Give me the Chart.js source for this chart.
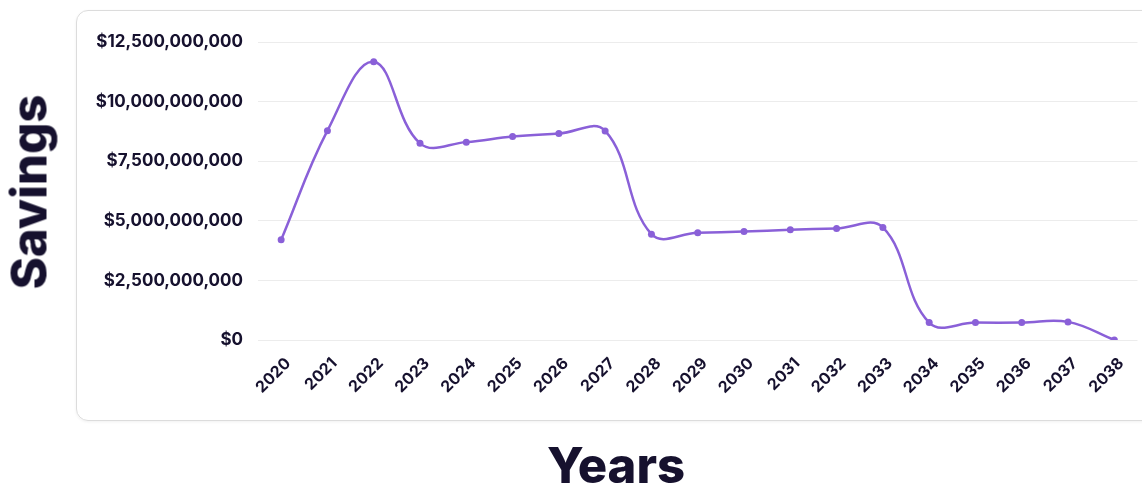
<!DOCTYPE html>
<html>
<head>
<meta charset="utf-8">
<script src="https://cdn.jsdelivr.net/npm/chart.js@4.4.1/dist/chart.umd.min.js"></script>
<style>
  html, body { margin:0; padding:0; width:1142px; height:487px; overflow:hidden; background:#fff; }
  #card { position:absolute; left:76px; top:10px; width:1140px; height:411px; border:1.5px solid #dcdcdc; border-radius:12px; box-sizing:border-box; box-shadow:0 1px 3px rgba(0,0,0,0.06); }
  #wrap { position:absolute; left:0; top:0; width:1142px; height:487px; }
  .title { position:absolute; font-family:Inter, "DejaVu Sans", sans-serif; font-weight:800; color:#16112e; white-space:nowrap; }
  #ytitle { left:29px; top:192px; font-size:49px; transform:translate(-50%,-50%) rotate(-90deg); }
  #xtitle { left:616px; top:465px; font-size:49px; transform:translate(-50%,-50%); }
</style>
</head>
<body>
<div id="card"></div>
<div id="wrap"><canvas id="c" width="1142" height="487"></canvas></div>
<div class="title" id="ytitle">Savings</div>
<div class="title" id="xtitle">Years</div>
<script>
const years = ["2020","2021","2022","2023","2024","2025","2026","2027","2028","2029","2030","2031","2032","2033","2034","2035","2036","2037","2038"];
const savings = [4200000000, 8780000000, 11670000000, 8250000000, 8300000000, 8540000000, 8660000000, 8770000000, 4440000000, 4500000000, 4550000000, 4620000000, 4680000000, 4720000000, 730000000, 730000000, 730000000, 760000000, 0];
const yMin = 0, yMax = 12500000000, yStep = 2500000000;

const lineColor = '#8a60d8';
const textColor = '#16112e';

new Chart(document.getElementById('c'), {
  type: 'line',
  data: {
    labels: years,
    datasets: [{
      label: 'Savings',
      data: savings,
      borderColor: lineColor,
      backgroundColor: lineColor,
      borderWidth: 2.5,
      tension: 0.4,
      pointRadius: 3.5,
      pointBackgroundColor: lineColor,
      pointBorderWidth: 0,
      fill: false
    }]
  },
  options: {
    responsive: false,
    animation: false,
    devicePixelRatio: 1,
    layout: { padding: { top: 42, left: 0, right: 0, bottom: 0 } },
    plugins: { legend: { display: false }, tooltip: { enabled: false } },
    scales: {
      x: {
        offset: true,
        grid: { display: false, drawTicks: false, offset: true },
        border: { display: false },
        ticks: {
          color: textColor, maxRotation: 45, minRotation: 45, padding: 14, labelOffset: 7,
          font: { family: 'Inter', size: 16, weight: '700' }
        },
        afterFit: (s) => { s.height = 147; }
      },
      y: {
        min: yMin, max: yMax,
        grid: { color: '#ececec', lineWidth: 1, drawTicks: false },
        border: { display: false },
        ticks: {
          stepSize: yStep, color: textColor, padding: 15,
          font: { family: 'Inter', size: 17, weight: '700' },
          callback: (v) => '$' + Number(v).toLocaleString('en-US')
        },
        afterFit: (s) => { s.width = 258; }
      }
    }
  }
});
</script>
</body>
</html>
